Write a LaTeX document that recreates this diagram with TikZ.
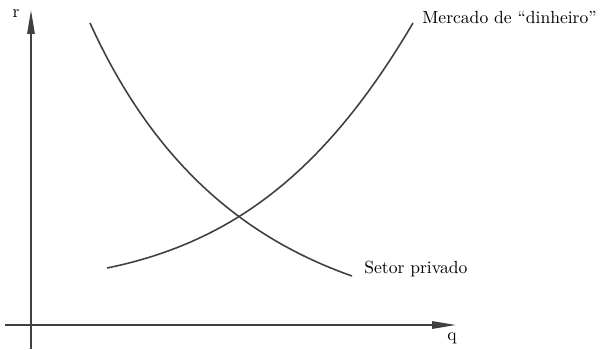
\documentclass[tikz,border=0pt]{standalone}
\usepackage{tikz}
\usetikzlibrary{arrows.meta}

\begin{document}
\begin{tikzpicture}[x=0.02cm,y=0.02cm]

    \useasboundingbox (0,0) rectangle (602,349);
    \tikzset{curve/.style={line width=0.9pt,black!75},
             axis/.style={line width=0.8pt,black!75,-{Triangle[length=4.8mm,width=1.5mm]}}}

    % Axes
    \coordinate (origin) at (31,24);
    \coordinate (r_start) at (31,0);
    \coordinate (r_end) at (31,339);
    \coordinate (q_start) at (5,24);
    \coordinate (q_end) at (456,24);
    \draw[axis] (r_start) -- (r_end);
    \draw[axis] (q_start) -- (q_end);
    \node (r) at (16,335) {r};
    \node (q) at (452,11) {q};

    \coordinate (setor_a) at (90,326);
    \coordinate (setor_b) at (352,73);
    \coordinate (mercado_a) at (107,81);
    \coordinate (mercado_b) at (413,326);

    % Setor privado
    \draw[curve] (setor_a) .. controls (155,183) and (247,110) .. (setor_b);
    % Mercado de dinheiro
    \draw[curve] (mercado_a) .. controls (235,107) and (327,180) .. (mercado_b);

    \node[right,inner sep=0pt] (mercado) at (422,332) {Mercado de ``dinheiro''};
    \node[right,inner sep=0pt] (setor) at (364,80) {Setor privado};

\end{tikzpicture}
\end{document}
